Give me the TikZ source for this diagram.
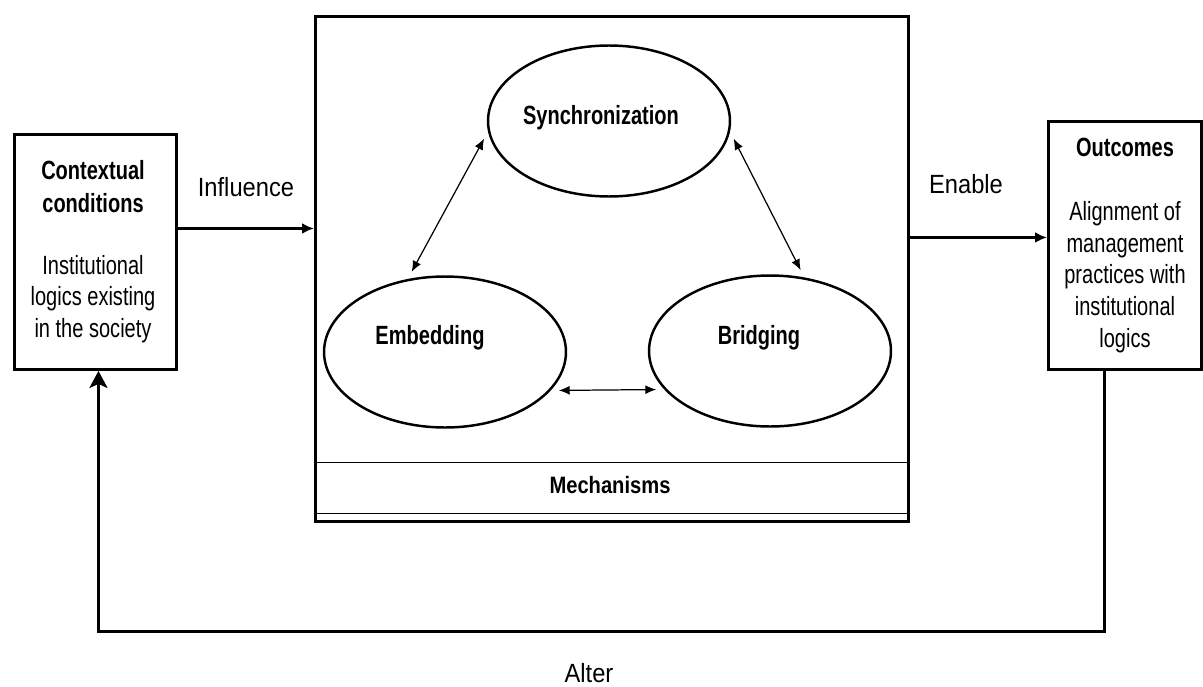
\documentclass[tikz,border=0pt]{standalone}
\usepackage{fontspec}
\setmainfont{Liberation Sans}
\newfontfamily\narrowfont[FakeStretch=0.76]{Liberation Sans}
\newfontfamily\tagfont[FakeStretch=0.9]{Liberation Sans}
\newfontfamily\mechfont[FakeStretch=0.85]{Liberation Sans}
\usepackage{tikz}
\usetikzlibrary{shapes.geometric,arrows.meta}

\begin{document}
\begin{tikzpicture}[x=0.02cm, y=-0.02cm,
		box/.style={draw, line width=1.7pt, inner sep=0pt, anchor=north west},
		bubble/.style={ellipse, draw, line width=1.4pt, minimum width=4.84cm, minimum height=3.02cm, inner sep=0pt},
		title/.style={font=\narrowfont\fontsize{15}{17}\selectfont\bfseries, inner sep=0pt},
		body/.style={font=\narrowfont\fontsize{15}{18}\selectfont, align=center, inner sep=0pt},
		bubbletext/.style={font=\narrowfont\fontsize{15}{17}\selectfont\bfseries, inner sep=0pt},
		tag/.style={font=\tagfont\fontsize{15}{17}\selectfont, inner sep=0pt},
		flow/.style={-{Latex[length=0.24cm,width=0.22cm]}, line width=1.7pt},
		feedback/.style={-{Stealth[length=0.34cm,width=0.36cm,inset=0.08cm]}, line width=1.7pt},
		twoway/.style={{Latex[length=0.22cm,width=0.18cm]}-{Latex[length=0.22cm,width=0.18cm]}, line width=0.7pt, shorten >=0.16cm, shorten <=0.16cm}]
	\useasboundingbox (0,0) rectangle (1203,686);

	% left box
	\node[box, minimum width=3.24cm, minimum height=4.7cm] (ctx) at (13,133) {};
	\node[title] (ctxtitle) at (93,170) {Contextual};
	\node[title] (ctxtitle2) at (93,203) {conditions};
	\node[body] (ctxbody) at (93,299) {Institutional\\logics existing\\in the society};

	% right box
	\node[box, minimum width=3.06cm, minimum height=4.96cm] (out) at (1047,120) {};
	\node[title] (outtitle) at (1125,147) {Outcomes};
	\node[body] (outbody) at (1125,277) {Alignment of\\management\\practices with\\institutional\\logics};

	% mechanisms
	\node[box, minimum width=11.86cm, minimum height=10.1cm] (mech) at (314,15) {};
	\node[draw, line width=0.8pt, anchor=north west, minimum width=11.86cm, minimum height=1.02cm, inner sep=0pt] (mechrow) at (314,462) {};
	\node[font=\mechfont\fontsize{13.5}{16}\selectfont\bfseries, inner sep=0pt] (mechlbl) at (610,485) {Mechanisms};

	\node[bubble] (sync) at (609,121) {};
	\node[bubbletext] (synctxt) at (601,118) {Synchronization};
	\node[bubble] (emb) at (445,352) {};
	\node[bubbletext] (embtxt) at (430,338) {Embedding};
	\node[bubble] (brg) at (770,351) {};
	\node[bubbletext] (brgtxt) at (759,338) {Bridging};

	\draw[twoway] (sync.185) -- (emb.117);
	\draw[twoway] (sync.-5) -- (brg.65);
	\draw[twoway] (emb.-20) -- (brg.200);

	% connectors
	\path ([yshift=0.47cm]ctx.east) coordinate (inf);
	\draw[flow] (inf) -- (inf -| mech.west);
	\node[tag] (inftxt) at (246,187) {Influence};

	\path ([yshift=0.16cm]out.west) coordinate (ena);
	\draw[flow] (ena -| mech.east) -- (ena);
	\node[tag] (enatxt) at (966,184) {Enable};

	\coordinate (turn) at (0,631);
	\draw[feedback] ([xshift=-0.41cm]out.south) |- ([xshift=0.06cm]turn -| ctx.south) -- ([xshift=0.06cm]ctx.south);
	\node[tag] (altertxt) at (589,673) {Alter};
\end{tikzpicture}
\end{document}
